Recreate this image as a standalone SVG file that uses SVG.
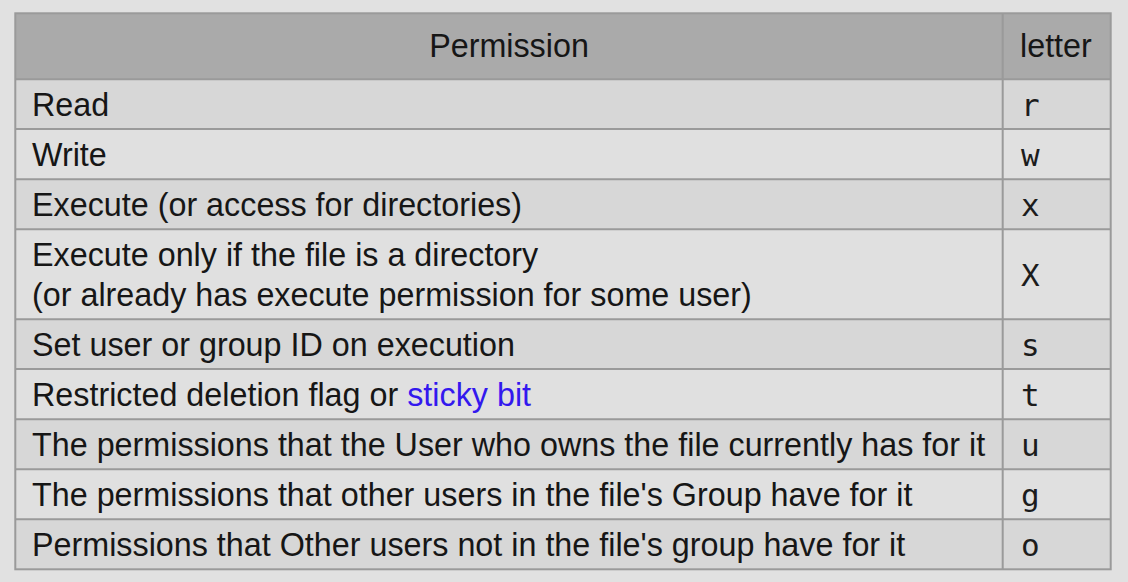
<svg xmlns="http://www.w3.org/2000/svg" width="1128" height="582" viewBox="0 0 1128 582">
<style>
.t{font-family:"Liberation Sans",Arial,Helvetica,sans-serif;font-size:32.3px;fill:#161616}
.m{font-family:"DejaVu Sans Mono","Liberation Mono",monospace;font-size:31px;fill:#1c1c1c}
.lk{fill:#3318ee}
.hd{fill:#aaaaaa}
.dk{fill:#d7d7d7}
.lt{fill:#e0e0e0}
.ln{stroke:#9a9a9a;stroke-width:2;fill:none}
</style>
<rect width="1128" height="582" fill="#e1e1e1"/>
<g id="header">
<rect class="hd" x="15.3" y="13.3" width="1095.4" height="66"/>
<text class="t" x="509" y="57" text-anchor="middle">Permission</text>
<text class="t" x="1020" y="57">letter</text>
</g>
<g id="row-read">
<rect class="dk" x="15.3" y="79.3" width="1095.4" height="50"/>
<text class="t" x="32" y="116">Read</text>
<text class="m" x="1021" y="116">r</text>
</g>
<g id="row-write">
<rect class="lt" x="15.3" y="129.3" width="1095.4" height="50"/>
<text class="t" x="32" y="166">Write</text>
<text class="m" x="1021" y="166">w</text>
</g>
<g id="row-execute">
<rect class="dk" x="15.3" y="179.3" width="1095.4" height="50"/>
<text class="t" x="32" y="216">Execute (or access for directories)</text>
<text class="m" x="1021" y="216">x</text>
</g>
<g id="row-X">
<rect class="lt" x="15.3" y="229.3" width="1095.4" height="90"/>
<text class="t" x="32" y="266">Execute only if the file is a directory</text>
<text class="t" x="32" y="306">(or already has execute permission for some user)</text>
<text class="m" x="1021" y="286">X</text>
</g>
<g id="row-s">
<rect class="dk" x="15.3" y="319.3" width="1095.4" height="50"/>
<text class="t" x="32" y="356">Set user or group ID on execution</text>
<text class="m" x="1021" y="356">s</text>
</g>
<g id="row-t">
<rect class="lt" x="15.3" y="369.3" width="1095.4" height="50"/>
<text class="t" x="32" y="406">Restricted deletion flag or <tspan class="lk">sticky bit</tspan></text>
<text class="m" x="1021" y="406">t</text>
</g>
<g id="row-u">
<rect class="dk" x="15.3" y="419.3" width="1095.4" height="50"/>
<text class="t" x="32" y="456">The permissions that the User who owns the file currently has for it</text>
<text class="m" x="1021" y="456">u</text>
</g>
<g id="row-g">
<rect class="lt" x="15.3" y="469.3" width="1095.4" height="50"/>
<text class="t" x="32" y="506">The permissions that other users in the file's Group have for it</text>
<text class="m" x="1021" y="506">g</text>
</g>
<g id="row-o">
<rect class="dk" x="15.3" y="519.3" width="1095.4" height="50"/>
<text class="t" x="32" y="556">Permissions that Other users not in the file's group have for it</text>
<text class="m" x="1021" y="556">o</text>
</g>
<g id="grid">
<rect class="ln" x="15.3" y="13.3" width="1095.4" height="556"/>
<line class="ln" x1="1002.7" y1="13.3" x2="1002.7" y2="569.3"/>
<line class="ln" x1="15.3" y1="79.3" x2="1110.7" y2="79.3"/>
<line class="ln" x1="15.3" y1="129" x2="1110.7" y2="129"/>
<line class="ln" x1="15.3" y1="179.3" x2="1110.7" y2="179.3"/>
<line class="ln" x1="15.3" y1="229.3" x2="1110.7" y2="229.3"/>
<line class="ln" x1="15.3" y1="319.3" x2="1110.7" y2="319.3"/>
<line class="ln" x1="15.3" y1="369" x2="1110.7" y2="369"/>
<line class="ln" x1="15.3" y1="419.3" x2="1110.7" y2="419.3"/>
<line class="ln" x1="15.3" y1="469.3" x2="1110.7" y2="469.3"/>
<line class="ln" x1="15.3" y1="519.3" x2="1110.7" y2="519.3"/>
</g>
</svg>
